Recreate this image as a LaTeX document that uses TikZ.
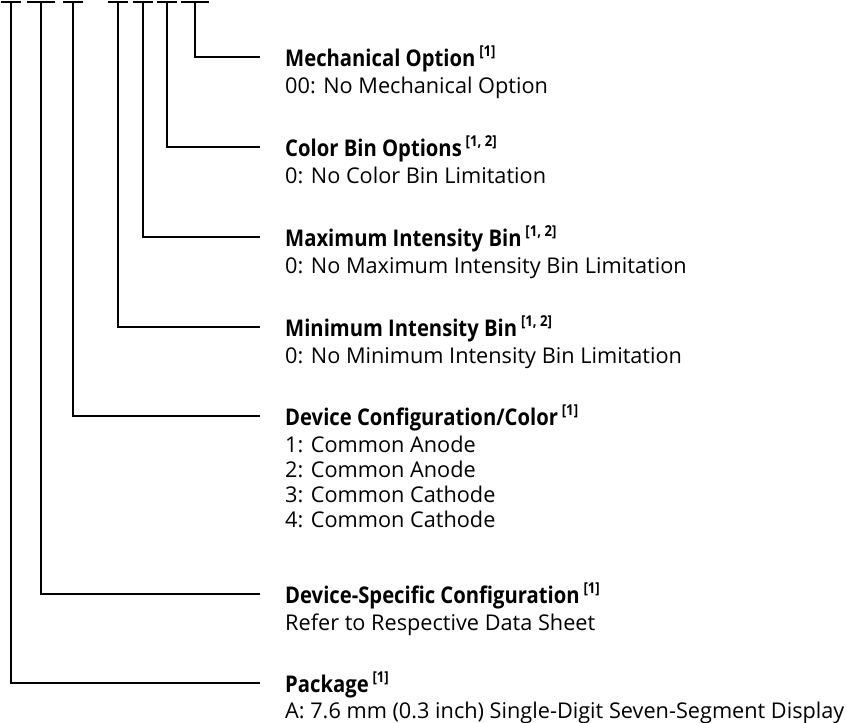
\documentclass[tikz,border=0pt]{standalone}
\usepackage{fontspec}
\setmainfont{Open Sans}
\newfontfamily\headfont[FakeStretch=0.88]{Open Sans}
\usetikzlibrary{positioning}

\newcommand{\refmark}[1]{\,\raisebox{0.4em}{\fontsize{15}{15}\selectfont[#1]}}

\begin{document}
\begin{tikzpicture}[x=1pt, y=-1pt,
    lead_style/.style={line width=1.3pt},
    head_style/.style={anchor=base west, inner sep=0pt, font=\headfont\bfseries\fontsize{23}{26}\selectfont},
    body_style/.style={anchor=base west, inner sep=0pt, font=\fontsize{21.7}{25}\selectfont}
]
\useasboundingbox (0,0) rectangle (847,723);
% Balken oben
\foreach \x/\w/\n in {11/20/1, 41/28/2, 73/20/3, 118/20/4, 143/20/5, 167/20/6, 195/28/7} {
    \draw[lead_style] (\x-\w/2, 2) -- (\x+\w/2, 2);
    \coordinate (t\n) at (\x, 2);
}
% Enden der Linien
\foreach \y/\n in {57/7, 147/6, 237/5, 327/4, 416/3, 594/2, 683/1} {
    \coordinate (e\n) at (260, \y);
}
% Titel
\node[head_style] (h7) at (285, 66) {Mechanical Option\refmark{1}};
\node[head_style] (h6) at (285, 156) {Color Bin Options\refmark{1, 2}};
\node[head_style] (h5) at (285, 246) {Maximum Intensity Bin\refmark{1, 2}};
\node[head_style] (h4) at (285, 336) {Minimum Intensity Bin\refmark{1, 2}};
\node[head_style] (h3) at (285, 425) {Device Configuration/Color\refmark{1}};
\node[head_style] (h2) at (285, 603) {Device-Specific Configuration\refmark{1}};
\node[head_style] (h1) at (285, 692) {Package\refmark{1}};
% Beschreibungen
\node[body_style] (b7) at (285, 93) {00: No Mechanical Option};
\node[body_style] (b6) at (285, 183) {0: No Color Bin Limitation};
\node[body_style] (b5) at (285, 273) {0: No Maximum Intensity Bin Limitation};
\node[body_style] (b4) at (285, 363) {0: No Minimum Intensity Bin Limitation};
\node[body_style] (b3a) at (285, 452) {1: Common Anode};
\node[body_style] (b3b) at (285, 477) {2: Common Anode};
\node[body_style] (b3c) at (285, 502) {3: Common Cathode};
\node[body_style] (b3d) at (285, 527) {4: Common Cathode};
\node[body_style] (b2) at (285, 630) {Refer to Respective Data Sheet};
\node[body_style] (b1) at (285, 718) {A: 7.6 mm (0.3 inch) Single-Digit Seven-Segment Display};
% Verbindungen
\foreach \n in {1,...,7} {
    \draw[lead_style] (t\n) |- (e\n);
}
\end{tikzpicture}
\end{document}
